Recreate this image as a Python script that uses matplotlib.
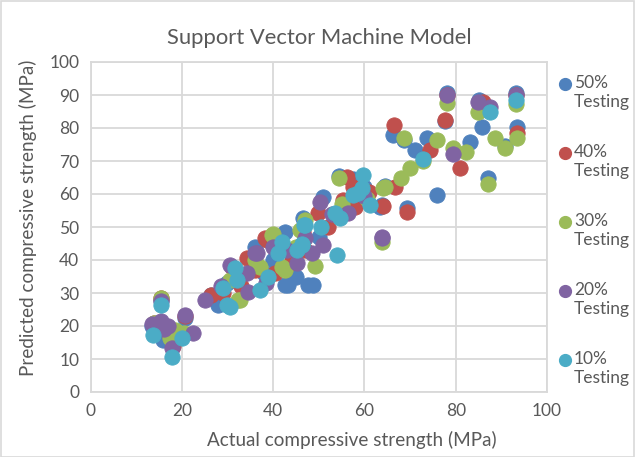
import matplotlib
matplotlib.use('Agg')
import matplotlib.pyplot as plt
from matplotlib.patches import Rectangle

plt.rcParams['font.family'] = ['Lato', 'DejaVu Sans']

# Actual (x) vs predicted (y) compressive strength, MPa, per testing split
x50 = [26.4, 42.6, 43.3, 47.7, 48.8, 42.6, 46.6, 51.0, 63.8, 63.4, 69.3, 75.8, 66.3, 68.7, 71.1,
       73.8, 83.1, 85.7, 87.1, 90.8, 93.4, 77.7, 54.5, 57.5, 15.9, 20.7, 15.5, 30.0, 28.0, 36.0,
       40.0, 44.0, 38.0, 50.0, 60.0, 13.5, 32.0, 45.0, 55.0, 78.0, 93.2, 85.0, 64.5, 17.0]
y50 = [29.4, 32.4, 32.4, 32.4, 32.4, 48.6, 52.6, 59.2, 56.7, 56.2, 55.7, 59.7, 77.9, 76.5, 73.3,
       76.9, 75.8, 80.4, 64.8, 74.5, 80.4, 82.0, 65.5, 64.5, 15.8, 22.5, 28.0, 33.0, 26.5, 44.0,
       40.0, 42.0, 36.0, 47.0, 62.0, 20.0, 36.0, 35.0, 55.0, 90.5, 90.5, 88.5, 62.5, 19.0]

x40 = [66.5, 77.7, 69.3, 80.9, 66.7, 74.4, 93.4, 86.0, 55.4, 56.1, 49.9, 38.2, 38.6, 34.2, 20.7,
       15.5, 14.0, 17.5, 29.0, 31.0, 42.0, 47.0, 52.0, 58.0, 61.0, 44.0, 46.5, 36.0, 33.0, 18.0,
       40.5, 26.5, 64.0, 78.0, 93.3, 57.5]
y40 = [80.9, 82.4, 54.6, 67.8, 62.2, 73.3, 78.4, 88.0, 58.2, 65.2, 54.1, 46.6, 46.0, 40.5, 23.0,
       28.5, 21.0, 17.0, 30.0, 38.0, 44.0, 43.0, 50.0, 56.0, 60.5, 39.0, 48.5, 37.0, 32.0, 14.0,
       36.0, 29.5, 56.5, 90.0, 90.0, 62.0]

x30 = [78.0, 84.9, 93.2, 93.4, 88.6, 90.8, 79.5, 82.3, 87.1, 70.0, 68.0, 64.5, 68.7, 72.9, 63.8,
       54.5, 64.0, 40.0, 39.7, 49.2, 37.1, 32.4, 32.7, 15.4, 18.5, 14.0, 20.5, 41.9, 45.0, 47.0,
       55.0, 60.5, 36.0, 30.5, 46.0, 17.5, 76.0, 42.5]
y30 = [87.5, 85.0, 87.3, 76.9, 76.9, 74.0, 73.8, 72.8, 63.0, 67.8, 64.8, 62.2, 76.9, 70.0, 45.6,
       64.8, 61.7, 48.0, 47.6, 38.2, 38.0, 27.9, 27.9, 28.4, 18.8, 21.0, 18.0, 38.0, 44.0, 52.0,
       57.0, 58.5, 40.0, 34.0, 49.0, 16.5, 76.5, 37.0]

x20 = [78.0, 84.9, 87.5, 93.2, 79.5, 63.8, 63.8, 50.3, 56.5, 51.0, 47.0, 45.2, 36.4, 36.0, 34.2,
       34.6, 30.6, 20.7, 22.5, 17.8, 13.5, 15.5, 17.0, 15.4, 40.0, 43.0, 48.5, 53.0, 60.0, 28.5,
       38.5, 16.0, 25.0]
y20 = [90.0, 88.0, 86.5, 90.0, 72.1, 47.1, 46.6, 57.7, 54.1, 44.5, 46.6, 39.0, 42.0, 42.0, 36.0,
       30.4, 38.5, 23.3, 17.9, 13.3, 20.5, 21.5, 20.0, 27.5, 44.0, 43.0, 42.0, 54.0, 59.5, 32.0,
       33.0, 19.0, 28.0]

x10 = [59.6, 57.6, 59.4, 61.2, 53.6, 54.7, 50.6, 46.8, 41.9, 46.3, 53.9, 41.1, 45.2, 46.3, 38.9,
       37.1, 31.7, 32.0, 29.1, 29.8, 30.6, 15.4, 13.8, 20.0, 17.9, 87.5, 93.2, 72.9, 58.7, 47.0]
y10 = [65.8, 59.7, 61.7, 56.7, 54.1, 52.6, 50.1, 50.6, 45.5, 45.0, 41.5, 42.0, 43.0, 44.5, 34.9,
       30.9, 37.5, 33.9, 31.4, 26.4, 25.8, 26.4, 17.3, 16.3, 10.7, 84.9, 88.5, 70.6, 60.2, 50.6]

series = [
    ('50%\nTesting', x50, y50, '#4F81BD'),
    ('40%\nTesting', x40, y40, '#C0504D'),
    ('30%\nTesting', x30, y30, '#9BBB59'),
    ('20%\nTesting', x20, y20, '#8064A2'),
    ('10%\nTesting', x10, y10, '#4BACC6'),
]

W, H = 635, 457
fig = plt.figure(figsize=(W / 100, H / 100), dpi=100)
ax = fig.add_axes([90.5 / W, 1 - 392 / H, (547 - 90.5) / W, (392 - 62) / H])

txt = '#595959'
grid = '#D9D9D9'

for label, xs, ys, col in series:
    ax.scatter(xs, ys, s=122, color=col, edgecolors=col, linewidths=0.6, zorder=3, clip_on=False)

ax.set_xlim(0, 100)
ax.set_ylim(0, 100)
ax.set_xticks(range(0, 101, 20))
ax.set_yticks(range(0, 101, 10))
ax.grid(True, color=grid, linewidth=1.3, zorder=0)
ax.set_axisbelow(True)
for sp in ax.spines.values():
    sp.set_color(grid)
    sp.set_linewidth(1.3)
ax.tick_params(length=0, colors=txt, labelsize=12.5, pad=8)

fig.text(319 / W, 1 - 38 / H, 'Support Vector Machine Model', ha='center', va='center',
         fontsize=15.8, color=txt)
fig.text(352 / W, 1 - 440 / H, 'Actual compressive strength (MPa)', ha='center', va='center',
         fontsize=13.6, color=txt)
fig.text(28 / W, 1 - 218 / H, 'Predicted compressive strength (MPa)', ha='center', va='center',
         rotation=90, fontsize=13.6, color=txt)

# legend drawn by hand so the marker sits on the first line of each label
for i, (label, xs, ys, col) in enumerate(series):
    yc = 84 + i * 69
    fig.lines.append(plt.Line2D([565 / W], [1 - yc / H], marker='o', markersize=8.5,
                                color=col, transform=fig.transFigure))
    fig.text(574 / W, 1 - (yc - 9) / H, label, ha='left', va='top', fontsize=12.5,
             color=txt, linespacing=1.25)

fig.patches.append(Rectangle((0.5 / W, 0.5 / H), 1 - 1.5 / W, 1 - 1.5 / H, fill=False,
                             edgecolor=grid, linewidth=1.2, transform=fig.transFigure))

fig.savefig('out.png', dpi=100)
